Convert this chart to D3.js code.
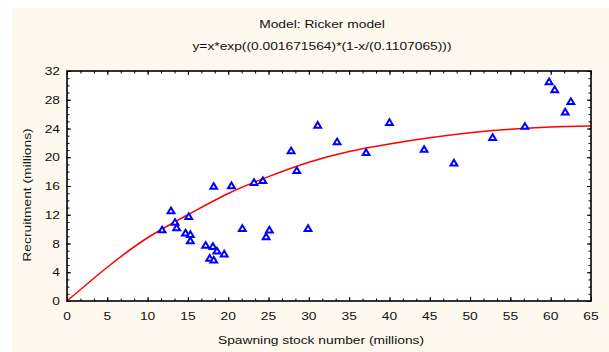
<!DOCTYPE html>
<html>
<head>
<meta charset="utf-8">
<script src="https://cdn.jsdelivr.net/npm/d3@7"></script>
<style>
body { margin: 0; background: #fff; }
text { font-family: "Liberation Sans", Arial, sans-serif; font-size: 11.5px; fill: #111; }
</style>
</head>
<body>
<svg id="chart" width="609" height="352"></svg>
<script>
// observed stock / recruitment pairs (millions)
const spawning = [11.8, 12.9, 13.4, 13.6, 15.1, 14.7, 15.3, 15.3, 18.2, 20.4, 17.2, 18.1,
    18.6, 19.5, 17.7, 18.2, 31.1, 40.0, 33.5, 27.8, 37.1, 28.5, 23.2, 24.3,
    21.75, 25.1, 24.7, 29.9, 59.8, 60.5, 62.5, 61.8, 56.8, 52.8, 44.3, 48.0];
const recruitment = [9.9, 12.55, 10.95, 10.2, 11.75, 9.45, 9.25, 8.4, 15.95, 16.05, 7.75, 7.6,
    6.95, 6.55, 5.95, 5.7, 24.45, 24.85, 22.15, 20.9, 20.65, 18.15, 16.5, 16.75,
    10.1, 9.87, 8.95, 10.1, 30.5, 29.4, 27.75, 26.3, 24.3, 22.75, 21.1, 19.2];

// fitted Ricker curve
const curveX = [0, 5, 10, 15, 20, 25, 30, 35, 40, 45, 50, 55, 60, 65];
const curveY = [0, 4.7, 8.8, 12.0, 14.95, 17.3, 19.3, 20.8, 21.85, 22.7, 23.4, 23.9, 24.2, 24.35];

const xTicks = d3.range(0, 66, 5);
const yTicks = d3.range(0, 33, 4);
const titleLines = ['Model: Ricker model', 'y=x*exp((0.001671564)*(1-x/(0.1107065)))'];
const xTitle = 'Spawning stock number (millions)';
const yTitle = 'Recruitment (millions)';

const svg = d3.select('#chart');
const stretch = 1.2; // the original font is drawn wide

const x = d3.scaleLinear().domain([0, 65]).range([67, 591]);
const y = d3.scaleLinear().domain([0, 32]).range([301, 71]);

function wideText(g, tx, ty, str, anchor, rotate) {
    return g.append('text')
        .attr('transform', `translate(${tx},${ty})` + (rotate ? ` rotate(${rotate})` : '') + ` scale(${stretch},1)`)
        .attr('text-anchor', anchor)
        .text(str);
}

// cream background + white plot area
svg.append('rect').attr('x', 12).attr('y', 8).attr('width', 597).attr('height', 344).attr('fill', '#fdf9ee');
svg.append('rect')
    .attr('x', x(0)).attr('y', y(32))
    .attr('width', x(65) - x(0)).attr('height', y(0) - y(32))
    .attr('fill', '#fff');

// ticks, all pointing inward
const xMinor = d3.range(0, 65.01, 5 / 3);
const yMinor = d3.range(0, 33, 1);
function tickAxis(axisFn, scale, values, len, tr) {
    svg.append('g')
        .attr('transform', tr)
        .call(axisFn(scale).tickValues(values).tickSize(-len).tickFormat('').tickSizeOuter(0))
        .call(g => g.select('.domain').remove())
        .call(g => g.selectAll('line').attr('stroke', '#000'));
}
tickAxis(d3.axisBottom, x, xMinor, 2.5, `translate(0,${y(0)})`);
tickAxis(d3.axisBottom, x, xTicks, 4, `translate(0,${y(0)})`);
tickAxis(d3.axisTop, x, xMinor, 2.5, `translate(0,${y(32)})`);
tickAxis(d3.axisTop, x, xTicks, 4, `translate(0,${y(32)})`);
tickAxis(d3.axisLeft, y, yMinor, 2.5, `translate(${x(0)},0)`);
tickAxis(d3.axisLeft, y, yTicks, 4, `translate(${x(0)},0)`);
tickAxis(d3.axisRight, y, yMinor, 2.5, `translate(${x(65)},0)`);
tickAxis(d3.axisRight, y, yTicks, 4, `translate(${x(65)},0)`);

// fitted curve
const line = d3.line()
    .x(d => x(d[0]))
    .y(d => y(d[1]))
    .curve(d3.curveNatural);
svg.append('path')
    .datum(curveX.map((v, i) => [v, curveY[i]]))
    .attr('d', line)
    .attr('fill', 'none')
    .attr('stroke', '#ff0000')
    .attr('stroke-width', 1.5);

// points as open triangles
svg.selectAll('path.pt')
    .data(spawning.map((v, i) => [v, recruitment[i]]))
    .enter()
    .append('path')
    .attr('class', 'pt')
    .attr('transform', d => `translate(${x(d[0])},${y(d[1])})`)
    .attr('d', 'M0,-3.2L3.4,2.5L-3.4,2.5Z')
    .attr('fill', '#fff')
    .attr('stroke', '#0000ff')
    .attr('stroke-width', 2);

// frame
svg.append('rect')
    .attr('x', x(0)).attr('y', y(32))
    .attr('width', x(65) - x(0)).attr('height', y(0) - y(32))
    .attr('fill', 'none')
    .attr('stroke', '#000')
    .attr('stroke-width', 1.6);

// tick labels
const labels = svg.append('g');
xTicks.forEach(t => wideText(labels, x(t), 320, t, 'middle'));
yTicks.forEach(t => wideText(labels, 60, y(t) + 4, t, 'end'));

// titles
wideText(svg, 322, 28, titleLines[0], 'middle');
wideText(svg, 322, 50, titleLines[1], 'middle');
wideText(svg, 321, 344, xTitle, 'middle');
wideText(svg, 31, 195, yTitle, 'middle', -90);
</script>
</body>
</html>
